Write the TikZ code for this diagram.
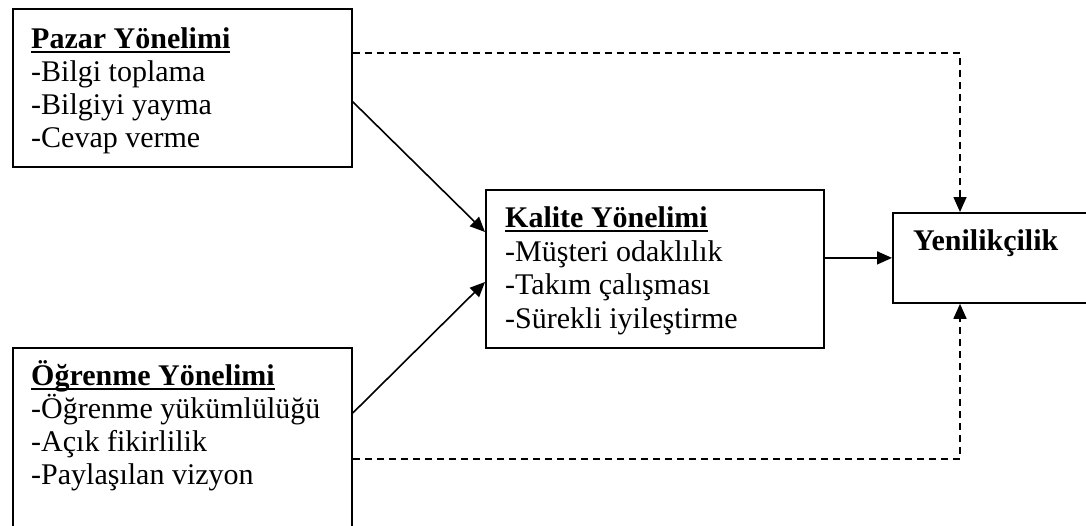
\documentclass[tikz,border=0pt]{standalone}
\usepackage{fontspec}
\setmainfont{Liberation Serif}
\usetikzlibrary{arrows.meta,calc}
\newcommand\hdrline[1]{\setbox0\hbox{\bfseries #1}\rlap{\rule[-5pt]{\wd0}{2.5pt}}\box0}
\begin{document}
\begin{tikzpicture}[x=1pt,y=-1pt,
  box/.style={draw,line width=1.8pt,inner sep=0pt,anchor=north west,rectangle},
  txt/.style={anchor=base west,inner sep=0pt,font=\fontsize{30pt}{33pt}\selectfont},
  conn/.style={line width=1.6pt,-{Triangle[length=15pt,width=13pt]}},
  dconn/.style={conn,dash pattern=on 7pt off 5pt}]
\clip (0,0) rectangle (1086,525);
\fill[white] (0,0) rectangle (1086,525);
% boxes
\node[box,minimum width=339pt,minimum height=158pt] (pazar) at (12,8) {};
\node[box,minimum width=339pt,minimum height=200pt] (ogr) at (12,347) {};
\node[box,minimum width=338pt,minimum height=158pt] (kal) at (485,189) {};
\node[box,minimum width=220pt,minimum height=90pt] (yen) at (892,212) {};
% texts
\node[txt] (p0) at (31,48) {\hdrline{Pazar Yönelimi}};
\node[txt] (p1) at (31,81) {-Bilgi toplama};
\node[txt] (p2) at (31,114) {-Bilgiyi yayma};
\node[txt] (p3) at (31,147) {-Cevap verme};
\node[txt] (o0) at (31,385) {\hdrline{Öğrenme Yönelimi}};
\node[txt] (o1) at (31,418) {-Öğrenme yükümlülüğü};
\node[txt] (o2) at (31,451) {-Açık fikirlilik};
\node[txt] (o3) at (31,484) {-Paylaşılan vizyon};
\node[txt] (k0) at (505,227) {\hdrline{Kalite Yönelimi}};
\node[txt] (k1) at (505,261) {-Müşteri odaklılık};
\node[txt] (k2) at (505,294) {-Takım çalışması};
\node[txt] (k3) at (505,328) {-Sürekli iyileştirme};
\node[txt] (y0) at (913,250) {\bfseries Yenilikçilik};
% connectors
\draw[conn] ($(pazar.south east)+(0,-66)$) -- ($(kal.north west)+(0,43)$);
\draw[conn] ($(ogr.north east)+(0,66)$) -- ($(kal.north west)+(0,93)$);
\draw[conn] (yen.west -| kal.east) -- (yen.west);
\draw[dconn] ($(pazar.north east)+(0,45)$) -| ($(yen.north west)+(68,0)$);
\draw[dconn] ($(ogr.north east)+(0,112)$) -| ($(yen.south west)+(68,0)$);
\end{tikzpicture}
\end{document}
